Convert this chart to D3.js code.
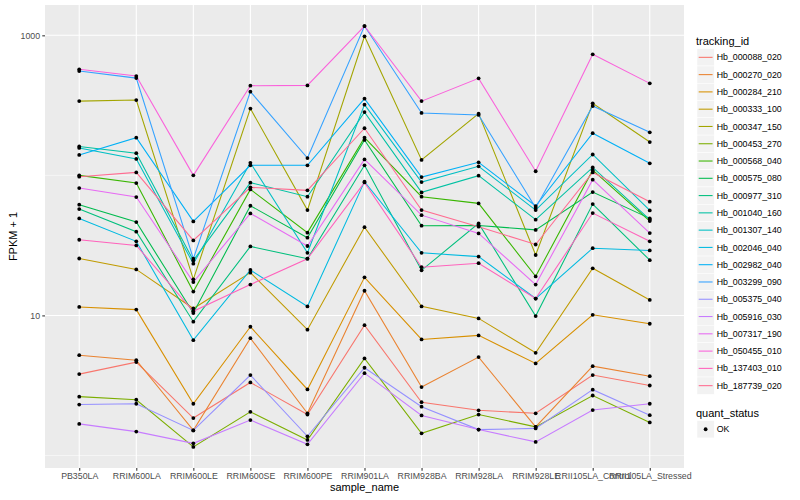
<!DOCTYPE html>
<html><head><meta charset="utf-8">
<script src="https://cdn.jsdelivr.net/npm/d3@7"></script>
<style>body{margin:0;background:#fff} svg{display:block} text{font-family:"Liberation Sans",Arial,Helvetica,sans-serif}</style>
</head><body><svg id="c" width="800" height="500"></svg>
<script>
const samples = ["PB350LA","RRIM600LA","RRIM600LE","RRIM600SE","RRIM600PE","RRIM901LA","RRIM928BA","RRIM928LA","RRIM928LE","RRII105LA_Control","RRII105LA_Stressed"];
const trackingIds = ["Hb_000088_020","Hb_000270_020","Hb_000284_210","Hb_000333_100","Hb_000347_150","Hb_000453_270","Hb_000568_040","Hb_000575_080","Hb_000977_310","Hb_001040_160","Hb_001307_140","Hb_002046_040","Hb_002982_040","Hb_003299_090","Hb_005375_040","Hb_005916_030","Hb_007317_190","Hb_050455_010","Hb_137403_010","Hb_187739_020"];
const palette = ["#F8766D","#EA8331","#D89000","#C09B00","#A3A500","#7CAE00","#39B600","#00BB4E","#00BF7D","#00C1A3","#00BFC4","#00BAE0","#00B0F6","#35A2FF","#9590FF","#C77CFF","#E76BF3","#FA62DB","#FF62BC","#FF6C91"];

const hb_000088_020 = [3.81, 4.64, 1.85, 3.32, 1.96, 8.52, 2.40, 2.10, 2.00, 3.75, 3.16];
const hb_000270_020 = [5.20, 4.79, 1.51, 6.88, 2.00, 15.0, 3.08, 5.04, 1.60, 4.34, 3.68];
const hb_000284_210 = [11.5, 11.0, 2.34, 8.30, 2.96, 18.7, 6.74, 7.20, 4.54, 10.1, 8.72];
const hb_000333_100 = [25.5, 21.3, 11.2, 20.2, 7.91, 42.7, 11.6, 9.52, 5.41, 21.7, 12.9];
const hb_000347_150 = [339, 345, 18.1, 300, 56.5, 984, 129, 276, 27.0, 327, 173];
const hb_000453_270 = [2.63, 2.50, 1.15, 2.05, 1.29, 4.93, 1.44, 1.96, 1.60, 2.68, 1.72];
const hb_000568_040 = [100, 88.1, 14.8, 79.4, 39.0, 186, 70.4, 63.1, 19.0, 109, 47.2];
const hb_000575_080 = [61.8, 46.4, 10.4, 60.7, 35.9, 179, 43.7, 43.9, 40.8, 76.0, 49.3];
const hb_000977_310 = [57.5, 39.6, 9.02, 31.1, 25.4, 118, 21.0, 45.4, 9.89, 62.4, 24.8];
const hb_001040_160 = [161, 144, 24.7, 88.7, 70.4, 283, 75.6, 99.5, 48.3, 114, 48.3];
const hb_001307_140 = [157, 131, 23.4, 123, 28.0, 320, 89.6, 116, 56.5, 141, 56.2];
const hb_002046_040 = [49.3, 33.8, 6.66, 21.1, 11.6, 90.2, 28.0, 26.3, 13.2, 30.2, 29.1];
const hb_002982_040 = [140, 186, 46.9, 118, 118, 353, 97.3, 124, 60.4, 200, 122];
const hb_003299_090 = [556, 495, 25.4, 396, 133, 1165, 279, 270, 58.8, 313, 203];
const hb_005375_040 = [2.31, 2.34, 1.51, 3.75, 1.37, 4.23, 2.23, 1.53, 1.56, 2.95, 1.94];
const hb_005916_030 = [1.68, 1.48, 1.22, 1.79, 1.20, 3.87, 1.93, 1.53, 1.25, 2.11, 2.34];
const hb_007317_190 = [81.2, 70.0, 17.3, 53.5, 31.3, 130, 52.0, 38.5, 16.6, 93.2, 38.7];
const hb_050455_010 = [572, 512, 100, 437, 439, 1165, 339, 493, 107, 732, 454];
const hb_137403_010 = [34.7, 31.6, 10.7, 16.6, 25.4, 89.1, 22.1, 23.6, 13.2, 53.8, 33.8];
const hb_187739_020 = [97.9, 105, 34.3, 82.1, 78.2, 217, 56.5, 43.0, 32.1, 105, 64.9];

const seriesValues = [hb_000088_020, hb_000270_020, hb_000284_210, hb_000333_100, hb_000347_150, hb_000453_270, hb_000568_040, hb_000575_080, hb_000977_310, hb_001040_160, hb_001307_140, hb_002046_040, hb_002982_040, hb_003299_090, hb_005375_040, hb_005916_030, hb_007317_190, hb_050455_010, hb_137403_010, hb_187739_020];
const yMajorTicks = [10, 1000];
const yMinorTicks = [1, 100];
const yTickLabels = ["10", "1000"];
const quantStatus = ["OK"];

const series = trackingIds.map((id, i) => ({id, color: palette[i], values: samples.map((s, j) => ({sample: s, v: seriesValues[i][j]}))}));

const svg = d3.select("#c");
const P = {left: 45, right: 684, top: 5, bottom: 468};

const x = d3.scalePoint().domain(samples).range([P.left, P.right]).padding(0.6);
const all = seriesValues.flat();
const lo = Math.log10(d3.min(all)), hi = Math.log10(d3.max(all));
const pad = (hi - lo) * 0.05;
const y = d3.scaleLog().domain([10 ** (lo - pad), 10 ** (hi + pad)]).range([P.bottom, P.top]);

// panel
svg.append("rect").attr("x", P.left).attr("y", P.top).attr("width", P.right - P.left).attr("height", P.bottom - P.top).attr("fill", "#EBEBEB");
const grid = svg.append("g");
yMinorTicks.forEach(t => grid.append("line").attr("x1", P.left).attr("x2", P.right).attr("y1", y(t)).attr("y2", y(t)).attr("stroke", "#fff").attr("stroke-width", 0.53));
yMajorTicks.forEach(t => grid.append("line").attr("x1", P.left).attr("x2", P.right).attr("y1", y(t)).attr("y2", y(t)).attr("stroke", "#fff").attr("stroke-width", 1.07));
samples.forEach(s => grid.append("line").attr("x1", x(s)).attr("x2", x(s)).attr("y1", P.top).attr("y2", P.bottom).attr("stroke", "#fff").attr("stroke-width", 1.07));

// lines
const line = d3.line().x(d => x(d.sample)).y(d => y(d.v));
svg.append("g").selectAll("path").data(series).join("path")
  .attr("d", d => line(d.values)).attr("fill", "none").attr("stroke", d => d.color).attr("stroke-width", 1.07);

// points
svg.append("g").selectAll("circle").data(series.flatMap(s => s.values)).join("circle")
  .attr("cx", d => x(d.sample)).attr("cy", d => y(d.v)).attr("r", 1.9).attr("fill", "#000");

// axes
const yAxis = svg.append("g").attr("transform", `translate(${P.left},0)`)
  .call(d3.axisLeft(y).tickValues(yMajorTicks).tickFormat((d, i) => yTickLabels[i]).tickSize(2.74).tickPadding(2.2));
const xAxis = svg.append("g").attr("transform", `translate(0,${P.bottom})`)
  .call(d3.axisBottom(x).tickSize(2.74).tickPadding(2.2));
[yAxis, xAxis].forEach(a => {
  a.select(".domain").remove();
  a.selectAll(".tick line").attr("stroke", "#333333").attr("stroke-width", 1.07);
  a.selectAll(".tick text").attr("fill", "#4D4D4D").style("font-size", "8.8px").style("font-family", '"Liberation Sans",Arial,sans-serif');
});

svg.append("text").attr("x", (P.left + P.right) / 2).attr("y", 491).attr("text-anchor", "middle").style("font-size", "11px").text("sample_name");
svg.append("text").attr("transform", `translate(17,${(P.top + P.bottom) / 2}) rotate(-90)`).attr("text-anchor", "middle").style("font-size", "11px").text("FPKM + 1");

// legend
const L = {x: 697, key: 17.28};
const lg = svg.append("g");
lg.append("text").attr("x", 696).attr("y", 44.5).style("font-size", "11px").text("tracking_id");
series.forEach((s, i) => {
  const y0 = 48.7 + i * L.key;
  lg.append("rect").attr("x", L.x).attr("y", y0).attr("width", L.key).attr("height", L.key).attr("fill", "#F2F2F2").attr("stroke", "#fff").attr("stroke-width", 0.5);
  lg.append("line").attr("x1", L.x + 1.7).attr("x2", L.x + L.key - 1.7).attr("y1", y0 + L.key / 2).attr("y2", y0 + L.key / 2).attr("stroke", s.color).attr("stroke-width", 1.07);
  lg.append("text").attr("x", 716.7).attr("y", y0 + L.key / 2).attr("dy", "0.35em").style("font-size", "8.8px").text(s.id);
});
lg.append("text").attr("x", 696).attr("y", 416.5).style("font-size", "11px").text("quant_status");
quantStatus.forEach((q, i) => {
  const y0 = 420.6 + i * L.key;
  lg.append("rect").attr("x", L.x).attr("y", y0).attr("width", L.key).attr("height", L.key).attr("fill", "#F2F2F2").attr("stroke", "#fff").attr("stroke-width", 0.5);
  lg.append("circle").attr("cx", L.x + L.key / 2).attr("cy", y0 + L.key / 2).attr("r", 1.9).attr("fill", "#000");
  lg.append("text").attr("x", 716.7).attr("y", y0 + L.key / 2).attr("dy", "0.35em").style("font-size", "8.8px").text(q);
});
</script></body></html>
